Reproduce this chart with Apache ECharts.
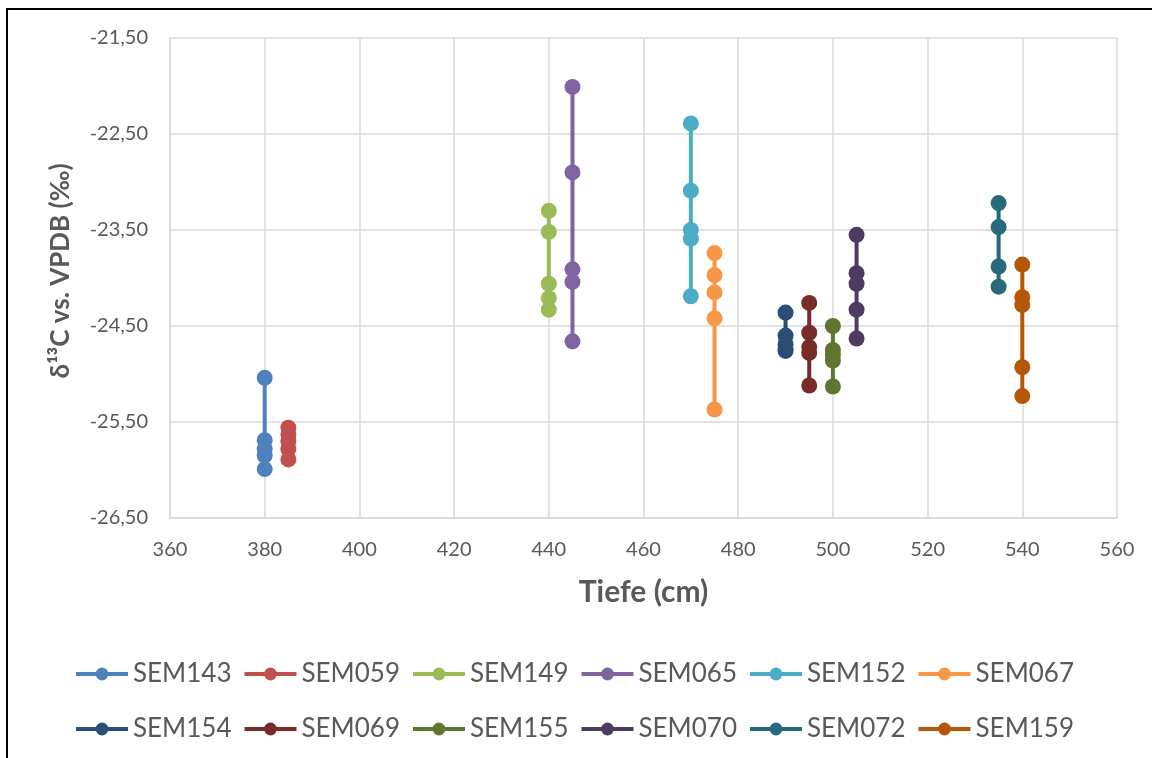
<!DOCTYPE html>
<html>
<head>
<meta charset="utf-8">
<title>Tiefe vs. d13C</title>
<script src="https://cdn.jsdelivr.net/npm/echarts@6/dist/echarts.min.js"></script>
<style>
  html, body { margin: 0; padding: 0; background: #fff; }
  #chart { width: 1152px; height: 758px; }
</style>
</head>
<body>
<div id="chart"></div>
<script>
// sample names, depth (cm) of each sample, measured values (per mil)
const names = ['SEM143', 'SEM059', 'SEM149', 'SEM065', 'SEM152', 'SEM067',
  'SEM154', 'SEM069', 'SEM155', 'SEM070', 'SEM072', 'SEM159'];
const depths = [380, 385, 440, 445, 470, 475, 490, 495, 500, 505, 535, 540];
const colors = ['#4F81BD', '#C0504D', '#9BBB59', '#8064A2', '#4BACC6', '#F79646',
  '#2C4D75', '#772C2A', '#5F7530', '#4D3B62', '#276A7C', '#B65708'];

const sem143 = [-25.04, -25.69, -25.78, -25.85, -25.99];
const sem059 = [-25.56, -25.63, -25.70, -25.78, -25.89];
const sem149 = [-23.30, -23.52, -24.06, -24.21, -24.33];
const sem065 = [-22.01, -22.90, -23.91, -24.04, -24.66];
const sem152 = [-22.39, -23.09, -23.50, -23.59, -24.19];
const sem067 = [-23.74, -23.97, -24.15, -24.42, -25.37];
const sem154 = [-24.36, -24.60, -24.69, -24.74, -24.76];
const sem069 = [-24.26, -24.57, -24.72, -24.78, -25.12];
const sem155 = [-24.50, -24.75, -24.80, -24.86, -25.13];
const sem070 = [-23.55, -23.95, -24.06, -24.33, -24.63];
const sem072 = [-23.22, -23.47, -23.88, -24.09];
const sem159 = [-23.86, -24.20, -24.28, -24.93, -25.23];

const values = [sem143, sem059, sem149, sem065, sem152, sem067,
  sem154, sem069, sem155, sem070, sem072, sem159];

const xTicks = { min: 360, max: 560, step: 20 };
const yTicks = { min: -26.5, max: -21.5, step: 1 };

const font = 'Lato, "Open Sans", sans-serif';
const grey = '#595959';

const series = names.map((name, i) => ({
  name: name,
  type: 'line',
  data: values[i].map(v => [depths[i], v]),
  symbol: 'circle',
  symbolSize: 16,
  itemStyle: { color: colors[i] },
  lineStyle: { color: colors[i], width: 4 },
  emphasis: { disabled: true },
  z: 3
}));

const legendBase = {
  left: 74,
  padding: 0,
  itemWidth: 52,
  itemHeight: 16,
  itemGap: 11,
  lineStyle: { width: 4 },
  textStyle: { fontFamily: font, fontSize: 26, color: grey, padding: [0, 0, 0, 0] }
};

const chart = echarts.init(document.getElementById('chart'));

chart.setOption({
  backgroundColor: '#ffffff',
  animation: false,
  grid: { left: 170, right: 35, top: 38, bottom: 240 },
  legend: [
    Object.assign({}, legendBase, { top: 661, data: names.slice(0, 6) }),
    Object.assign({}, legendBase, { top: 716, data: names.slice(6) })
  ],
  xAxis: {
    type: 'value',
    min: xTicks.min,
    max: xTicks.max,
    interval: xTicks.step,
    name: 'Tiefe (cm)',
    nameLocation: 'middle',
    nameGap: 59,
    nameTextStyle: { fontFamily: font, fontSize: 30, fontWeight: 'bold', color: grey },
    axisLine: { lineStyle: { color: '#d9d9d9', width: 1.5 } },
    axisTick: { show: false },
    axisLabel: { fontFamily: font, fontSize: 20, color: grey, margin: 22 },
    splitLine: { show: true, lineStyle: { color: '#d9d9d9', width: 1.5 } }
  },
  yAxis: {
    type: 'value',
    min: yTicks.min,
    max: yTicks.max,
    interval: yTicks.step,
    name: 'δ¹³C vs. VPDB (‰)',
    nameLocation: 'middle',
    nameGap: 96,
    nameTextStyle: {
      fontFamily: font, fontSize: 26, fontWeight: 'bold', color: grey,
      padding: [0, 0, 0, 14]
    },
    axisLine: { show: true, lineStyle: { color: '#d9d9d9', width: 1.5 } },
    axisTick: { show: false },
    axisLabel: {
      fontFamily: font, fontSize: 20, color: grey, margin: 22,
      formatter: v => v.toFixed(2).replace('.', ',')
    },
    splitLine: { show: true, lineStyle: { color: '#d9d9d9', width: 1.5 } }
  },
  graphic: [{
    type: 'polyline',
    shape: { points: [[7, 758], [7, 9], [1152, 9]] },
    style: { stroke: '#000', lineWidth: 2, fill: null },
    silent: true
  }],
  series: series
});
</script>
</body>
</html>
